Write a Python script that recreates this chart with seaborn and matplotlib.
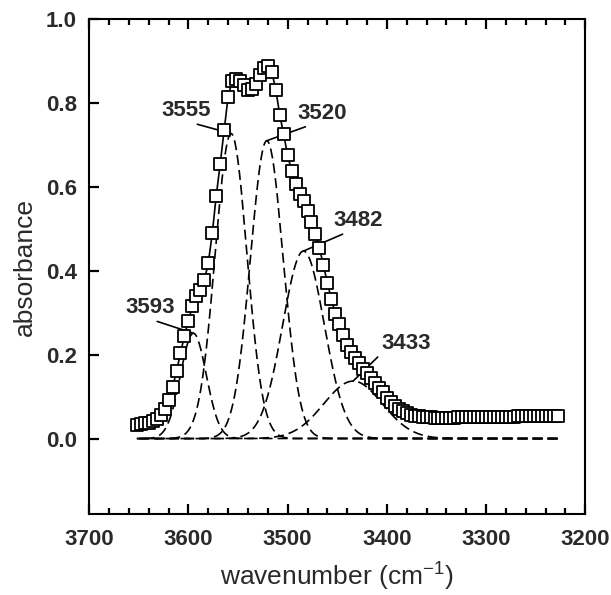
import numpy as np
import pandas as pd
import seaborn as sns
import matplotlib.pyplot as plt
from matplotlib.ticker import MultipleLocator

sns.set_style("white")
plt.rcParams['font.family'] = ['Liberation Sans', 'DejaVu Sans']
plt.rcParams['axes.axisbelow'] = False

# measured spectrum (squares)
wavenumber = [3652, 3648, 3644, 3640, 3636, 3632, 3628, 3624, 3620, 3616,
              3612, 3608, 3604, 3600, 3596, 3592, 3588, 3584, 3580, 3576,
              3572, 3568, 3564, 3560, 3556, 3552, 3548, 3544, 3540, 3536,
              3532, 3528, 3524, 3520, 3516, 3512, 3508, 3504, 3500, 3496,
              3492, 3488, 3484, 3480, 3476, 3472, 3468, 3464, 3460, 3456,
              3452, 3448, 3444, 3440, 3436, 3432, 3428, 3424, 3420, 3416,
              3412, 3408, 3404, 3400, 3396, 3392, 3388, 3384, 3380, 3376,
              3372, 3368, 3364, 3360, 3356, 3352, 3348, 3344, 3340, 3336,
              3332, 3328, 3324, 3320, 3316, 3312, 3308, 3304, 3300, 3296,
              3292, 3288, 3284, 3280, 3276, 3272, 3268, 3264, 3260, 3256,
              3252, 3248, 3244, 3240, 3236, 3232, 3228]
absorbance = [0.033, 0.034, 0.036, 0.038, 0.041, 0.046, 0.055, 0.070, 0.093, 0.122,
              0.160, 0.204, 0.245, 0.281, 0.316, 0.339, 0.354, 0.377, 0.418, 0.489,
              0.578, 0.655, 0.735, 0.815, 0.852, 0.857, 0.853, 0.843, 0.831, 0.834,
              0.846, 0.866, 0.884, 0.888, 0.874, 0.832, 0.772, 0.725, 0.675, 0.638,
              0.607, 0.583, 0.566, 0.543, 0.517, 0.487, 0.455, 0.413, 0.372, 0.332,
              0.298, 0.272, 0.246, 0.224, 0.206, 0.193, 0.180, 0.167, 0.156, 0.144,
              0.132, 0.120, 0.110, 0.097, 0.087, 0.077, 0.070, 0.065, 0.060, 0.057,
              0.054, 0.053, 0.052, 0.051, 0.051, 0.050, 0.050, 0.050, 0.050, 0.050,
              0.050, 0.051, 0.051, 0.051, 0.051, 0.051, 0.051, 0.052, 0.052, 0.052,
              0.052, 0.052, 0.052, 0.052, 0.052, 0.052, 0.053, 0.053, 0.053, 0.053,
              0.053, 0.053, 0.053, 0.053, 0.053, 0.054, 0.054]

# fitted gaussian components
peakLabels = ["3593", "3555", "3520", "3482", "3433"]
peakCenter = [3595, 3557, 3521, 3484, 3434]
peakHeight = [0.251, 0.727, 0.710, 0.447, 0.137]
peakSigma = [13, 16, 16.5, 21, 29.5]
# label positions (data coords) and where the leader line leaves the text
labelPos = [(3639, 0.312), (3602, 0.782), (3465, 0.776), (3429, 0.520), (3381, 0.227)]
labelRel = [(0.45, 0), (0.48, 0), (0.34, 0), (0.34, 0), (0.0, 0)]

df = pd.DataFrame({'wavenumber': wavenumber, 'absorbance': absorbance})

grid = np.linspace(wavenumber[0], wavenumber[-1], 600)
comps = []
for lab, c, h, s in zip(peakLabels, peakCenter, peakHeight, peakSigma):
    comps.append(pd.DataFrame({'wavenumber': grid,
                               'absorbance': h * np.exp(-(grid - c) ** 2 / (2 * s ** 2)),
                               'peak': lab}))
dfComp = pd.concat(comps)

fig = plt.figure(figsize=(6.11, 5.95), dpi=100)
ax = fig.add_axes([0.146, 0.136, 0.812, 0.832])

for lab in peakLabels:
    sns.lineplot(ax=ax, data=dfComp[dfComp.peak == lab], x='wavenumber', y='absorbance',
                 color='black', lw=1.2, linestyle=(0, (6, 3)), zorder=2)
sns.lineplot(ax=ax, data=df, x='wavenumber', y='absorbance', color='black', lw=1.2, zorder=3)
sns.scatterplot(ax=ax, data=df, x='wavenumber', y='absorbance', marker='s', s=66,
                facecolor='white', edgecolor='black', linewidth=1.3, zorder=4)

for lab, c, h, pos, rel in zip(peakLabels, peakCenter, peakHeight, labelPos, labelRel):
    ax.annotate(lab, xy=(c, h), xytext=pos, ha='center', va='center',
                fontsize=16, fontweight='bold', color='#2a2a2a',
                arrowprops=dict(arrowstyle='-', color='black', lw=1.2,
                                shrinkA=0, shrinkB=0, relpos=rel))

ax.set_xlim(3700, 3200)
ax.set_ylim(-0.18, 1.0)
ax.set_xticks([3700, 3600, 3500, 3400, 3300, 3200])
ax.set_yticks([0.0, 0.2, 0.4, 0.6, 0.8, 1.0])
ax.xaxis.set_minor_locator(MultipleLocator(20))
ax.tick_params(axis='x', which='both', direction='in', bottom=True, top=True)
ax.tick_params(axis='y', which='both', direction='in', left=True, right=False)
ax.tick_params(which='both', width=1.6, color='black', labelcolor='#2a2a2a', labelsize=16)
ax.tick_params(which='major', length=7.5)
ax.tick_params(which='minor', length=4)
ax.tick_params(axis='x', which='major', pad=11)
ax.tick_params(axis='y', which='major', pad=9)
for lbl in ax.get_xticklabels() + ax.get_yticklabels():
    lbl.set_fontweight('bold')
for sp in ax.spines.values():
    sp.set_linewidth(1.5)
    sp.set_color('black')
    sp.set_visible(True)

ax.set_xlabel("wavenumber (cm$^{\\mathregular{-1}}$)", fontsize=19, color='#2a2a2a', labelpad=6)
ax.set_ylabel("absorbance", fontsize=19, color='#2a2a2a', labelpad=6)

plt.savefig("out.png", dpi=100)
